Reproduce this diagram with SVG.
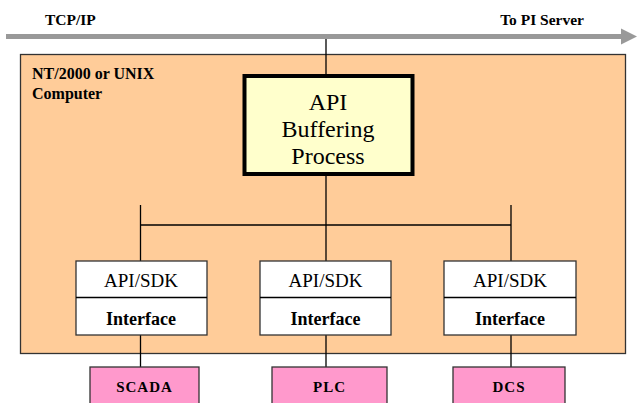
<svg xmlns="http://www.w3.org/2000/svg" width="640" height="403" viewBox="0 0 640 403">
<style>
.b{font-weight:bold}
.ln{stroke:#000;stroke-width:1.3;fill:none}
.ifc{fill:#fff;stroke:#333;stroke-width:1.3}
.dev{fill:#FF99CC;stroke:#333;stroke-width:1.3}
</style>
<rect width="640" height="403" fill="#fff"/>
<g id="network">
<line x1="6" y1="36.5" x2="623" y2="36.5" stroke="#999" stroke-width="5"/>
<polygon points="621,28.5 637,36.5 621,44.5" fill="#999"/>
<text x="45" y="25" font-family="Liberation Serif" class="b" font-size="15.5">TCP/IP</text>
<text x="584" y="25" font-family="Liberation Serif" class="b" font-size="15.5" text-anchor="end">To PI Server</text>
</g>
<g id="computer">
<rect x="20.5" y="54.5" width="605" height="299" fill="#FFCC99" stroke="#333" stroke-width="1.3"/>
<text x="32" y="79" font-family="Liberation Serif" class="b" font-size="16">NT/2000 or UNIX</text>
<text x="32" y="99" font-family="Liberation Serif" class="b" font-size="16">Computer</text>
</g>
<g id="connectors">
<line class="ln" x1="326" y1="39" x2="326" y2="76"/>
<line class="ln" x1="326" y1="175" x2="326" y2="261"/>
<line class="ln" x1="140.5" y1="225" x2="511" y2="225"/>
<line class="ln" x1="140.5" y1="205" x2="140.5" y2="261"/>
<line class="ln" x1="511" y1="205" x2="511" y2="261"/>
<line class="ln" x1="140.5" y1="335" x2="140.5" y2="367"/>
<line class="ln" x1="326" y1="335" x2="326" y2="367"/>
<line class="ln" x1="511" y1="335" x2="511" y2="367"/>
</g>
<g id="buffering">
<rect x="244.5" y="76" width="168" height="98" fill="#FFFFCC" stroke="#000" stroke-width="4"/>
<text x="328" y="110" font-family="Liberation Serif" font-size="24" text-anchor="middle">API</text>
<text x="328" y="137" font-family="Liberation Serif" font-size="24" text-anchor="middle">Buffering</text>
<text x="328" y="164" font-family="Liberation Serif" font-size="24" text-anchor="middle">Process</text>
</g>
<g id="iface1">
<rect class="ifc" x="76" y="261" width="131" height="74"/>
<line class="ln" x1="76" y1="297.5" x2="207" y2="297.5"/>
<text x="141" y="287" font-family="Liberation Serif" font-size="19" text-anchor="middle">API/SDK</text>
<text x="141" y="325" font-family="Liberation Serif" class="b" font-size="18" text-anchor="middle">Interface</text>
</g>
<g id="iface2">
<rect class="ifc" x="260" y="261" width="131" height="74"/>
<line class="ln" x1="260" y1="297.5" x2="391" y2="297.5"/>
<text x="325.5" y="287" font-family="Liberation Serif" font-size="19" text-anchor="middle">API/SDK</text>
<text x="325.5" y="325" font-family="Liberation Serif" class="b" font-size="18" text-anchor="middle">Interface</text>
</g>
<g id="iface3">
<rect class="ifc" x="444" y="261" width="132" height="74"/>
<line class="ln" x1="444" y1="297.5" x2="576" y2="297.5"/>
<text x="510" y="287" font-family="Liberation Serif" font-size="19" text-anchor="middle">API/SDK</text>
<text x="510" y="325" font-family="Liberation Serif" class="b" font-size="18" text-anchor="middle">Interface</text>
</g>
<g id="scada">
<rect class="dev" x="90" y="367" width="109" height="40"/>
<text x="144.5" y="392" font-family="Liberation Serif" class="b" font-size="15" letter-spacing="1" text-anchor="middle">SCADA</text>
</g>
<g id="plc">
<rect class="dev" x="272" y="367" width="115" height="40"/>
<text x="329.5" y="392" font-family="Liberation Serif" class="b" font-size="15" letter-spacing="1" text-anchor="middle">PLC</text>
</g>
<g id="dcs">
<rect class="dev" x="453" y="367" width="112" height="40"/>
<text x="509" y="392" font-family="Liberation Serif" class="b" font-size="15" letter-spacing="1" text-anchor="middle">DCS</text>
</g>
</svg>
